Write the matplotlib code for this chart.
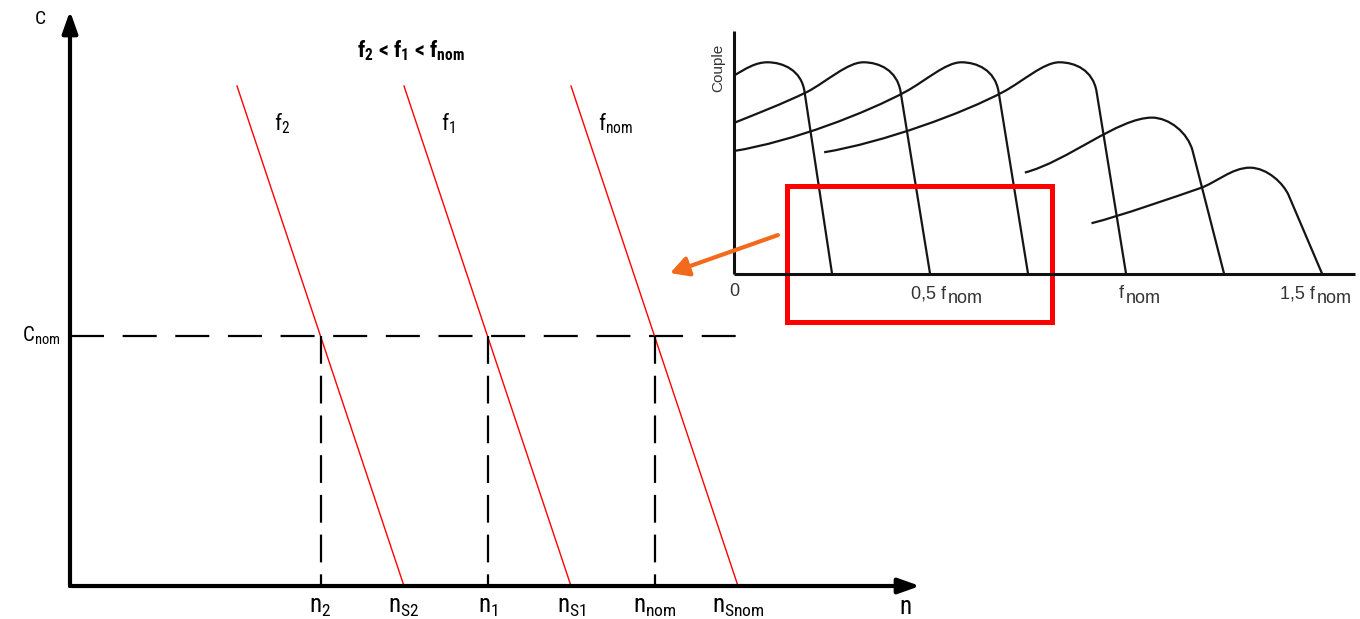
import matplotlib.pyplot as plt
from matplotlib import font_manager
from matplotlib.path import Path
from matplotlib.patches import PathPatch, Rectangle


def narrow_font():
    # police étroite si disponible, sinon Liberation Sans
    prefs = ['Liberation Sans Narrow', 'Roboto Condensed', 'Open Sans Condensed',
             'Noto Sans Condensed', 'DejaVu Sans Condensed', 'DejaVu Sans',
             'Noto Sans', 'Open Sans', 'Roboto']
    narrow = ('condensed', 'semi-condensed', 'extra-condensed')
    for fam in prefs:
        for f in font_manager.fontManager.ttflist:
            if f.name == fam and f.style == 'normal' and f.weight in (400, 'normal', 'regular') \
                    and (f.stretch in narrow or 'Narrow' in fam or 'Condensed' in fam):
                return f.name, f.stretch
    return 'Liberation Sans', 'normal'


fam, stretch = narrow_font()
plt.rcParams['font.family'] = [fam, 'DejaVu Sans']
plt.rcParams['font.stretch'] = stretch
plt.rcParams['mathtext.fontset'] = 'custom'
plt.rcParams['mathtext.rm'] = f'{fam}:stretch={stretch}'
plt.rcParams['mathtext.it'] = f'{fam}:style=italic:stretch={stretch}'
plt.rcParams['mathtext.bf'] = f'{fam}:weight=bold:stretch={stretch}'
plt.rcParams['lines.scale_dashes'] = False

# --- diagramme principal C(n) ---
n_sync = [1.0, 1.5, 2.0]          # vitesses de synchronisme (f2, f1, fnom)
C_top = 2.0                       # haut des droites rouges
slip_top = 0.5                    # écart de vitesse entre C=0 et C=C_top
C_nom = 1.0
freq_labels = [r'$\mathrm{f_2}$', r'$\mathrm{f_1}$', r'$\mathrm{f_{nom}}$']
freq_label_x = [0.61, 1.11, 1.58]
op_labels = [r'$\mathrm{n_2}$', r'$\mathrm{n_1}$', r'$\mathrm{n_{nom}}$']
sync_labels = [r'$\mathrm{n_{S2}}$', r'$\mathrm{n_{S1}}$', r'$\mathrm{n_{Snom}}$']

# --- encart : couple en fonction de la fréquence ---
inset_ticks = [0.0, 0.5, 1.0, 1.5]
inset_tick_text = ['0', '0,5 f', 'f', '1,5 f']
inset_tick_x = [0.0, 0.541, 0.995, 1.482]
curves = [
    [(0, 0.937), (0.03, 0.97), (0.055, 1.0), (0.085, 1.0),
     (0.125, 1.0), (0.172, 0.963), (0.18, 0.86), (0.25, 0.0)],
    [(0, 0.713), (0.06, 0.758), (0.12, 0.80), (0.188, 0.861),
     (0.238, 0.911), (0.29, 1.0), (0.33, 1.0),
     (0.37, 1.0), (0.416, 0.963), (0.425, 0.86), (0.5, 0.0)],
    [(0, 0.58), (0.15, 0.625), (0.338, 0.761), (0.438, 0.861),
     (0.488, 0.911), (0.54, 1.0), (0.58, 1.0),
     (0.62, 1.0), (0.666, 0.963), (0.675, 0.86), (0.75, 0.0)],
    [(0.23, 0.574), (0.38, 0.62), (0.588, 0.761), (0.688, 0.861),
     (0.738, 0.911), (0.79, 1.0), (0.83, 1.0),
     (0.87, 1.0), (0.916, 0.963), (0.925, 0.86), (1.0, 0.0)],
    [(0.742, 0.478), (0.85, 0.53), (0.98, 0.738), (1.066, 0.738),
     (1.11, 0.738), (1.158, 0.667), (1.17, 0.58), (1.25, 0.0)],
    [(0.912, 0.238), (0.99, 0.275), (1.12, 0.36), (1.189, 0.404),
     (1.23, 0.43), (1.27, 0.501), (1.316, 0.501),
     (1.36, 0.501), (1.402, 0.426), (1.415, 0.37), (1.5, 0.0)],
]

W, H = 1360, 619
fig = plt.figure(figsize=(W / 100, H / 100), dpi=100)

ax = fig.add_axes([70 / W, 33 / H, 868.4 / W, 575 / H])
ax.set_xlim(0, 2.6)
ax.set_ylim(0, 2.3)
ax.axis('off')

arrow = dict(arrowstyle='-|>,head_length=0.65,head_width=0.23', lw=3,
             color='black', shrinkA=0, shrinkB=0, mutation_scale=20)
ax.annotate('', xy=(2.545, 0), xytext=(0, 0), arrowprops=arrow,
            annotation_clip=False)
ax.annotate('', xy=(0, 2.3), xytext=(0, 0), arrowprops=arrow,
            annotation_clip=False)

ax.plot([0, n_sync[-1]], [C_nom, C_nom], color='black', lw=1.6,
        dashes=(24.5, 13.4))
for ns, fl, fx, ol, sl in zip(n_sync, freq_labels, freq_label_x,
                              op_labels, sync_labels):
    ax.plot([ns - slip_top, ns], [C_top, 0], color='#ff0000', lw=1.0)
    n_op = ns - slip_top * C_nom / C_top
    ax.plot([n_op, n_op], [C_nom, 0], color='black', lw=1.6,
            dashes=(20, 8.6))
    ax.text(fx, 1.85, fl, fontsize=16, ha='left', va='center')
    ax.text(n_op, -0.085, ol, fontsize=18, ha='center', va='center')
    ax.text(ns, -0.085, sl, fontsize=18, ha='center', va='center')

ax.text(2.5, -0.085, 'n', fontsize=18, ha='center', va='center')
ax.text(-0.09, 2.268, 'C', fontsize=14, ha='center', va='center')
ax.text(-0.028, C_nom, r'$\mathrm{C_{nom}}$', fontsize=15,
        ha='right', va='center')
ax.text(1.022, 2.14,
        r'$\mathbf{f_2}$ < $\mathbf{f_1}$ < $\mathbf{f_{nom}}$',
        fontsize=16, fontweight='bold', ha='center', va='center')

# --- encart ---
ax2 = fig.add_axes([734 / W, (H - 273.5) / H, 627.2 / W, 242.9 / H])
ax2.set_xlim(0, 1.6)
ax2.set_ylim(0, 1.15)
ax2.axis('off')
ax2.plot([0, 1.585], [0, 0], color='#111111', lw=2.2,
         solid_capstyle='butt', clip_on=False)
ax2.plot([0, 0], [0, 1.15], color='#111111', lw=2.2,
         solid_capstyle='butt', clip_on=False)

for pts in curves:
    n = len(pts)
    codes = [Path.MOVETO] + [Path.CURVE4] * (n - 2) + [Path.LINETO]
    ax2.add_patch(PathPatch(Path(pts, codes), fill=False, lw=1.6,
                            edgecolor='#151515', clip_on=False))

inset_font = dict(family='Liberation Sans', stretch='normal',
                  color='#333333', fontsize=13)
for t, txt, tx in zip(inset_ticks, inset_tick_text, inset_tick_x):
    if t == 0:
        ax2.text(tx, -0.107, txt, ha='center', va='baseline', **inset_font)
    else:
        ax2.text(tx, -0.117, txt, ha='right', va='baseline', **inset_font)
        ax2.text(tx + 0.004, -0.141, 'nom', ha='left', va='baseline',
                 **inset_font)
ax2.text(-0.041, 0.973, 'Couple', rotation=90, ha='center', va='center',
         family='Liberation Sans', stretch='normal', color='#333333',
         fontsize=11)

ax2.add_patch(Rectangle((0.135, -0.230), 0.676, 0.644, fill=False,
                        edgecolor='#ff0000', lw=3.6, clip_on=False))
ax2.annotate('', xy=(-0.163, 0.002), xytext=(0.112, 0.182),
             arrowprops=dict(arrowstyle='-|>,head_length=0.55,head_width=0.3',
                             color='#f26b1d', lw=3, shrinkA=0, shrinkB=0,
                             mutation_scale=20),
             annotation_clip=False)

fig.savefig('out.png', dpi=100)
plt.close(fig)
